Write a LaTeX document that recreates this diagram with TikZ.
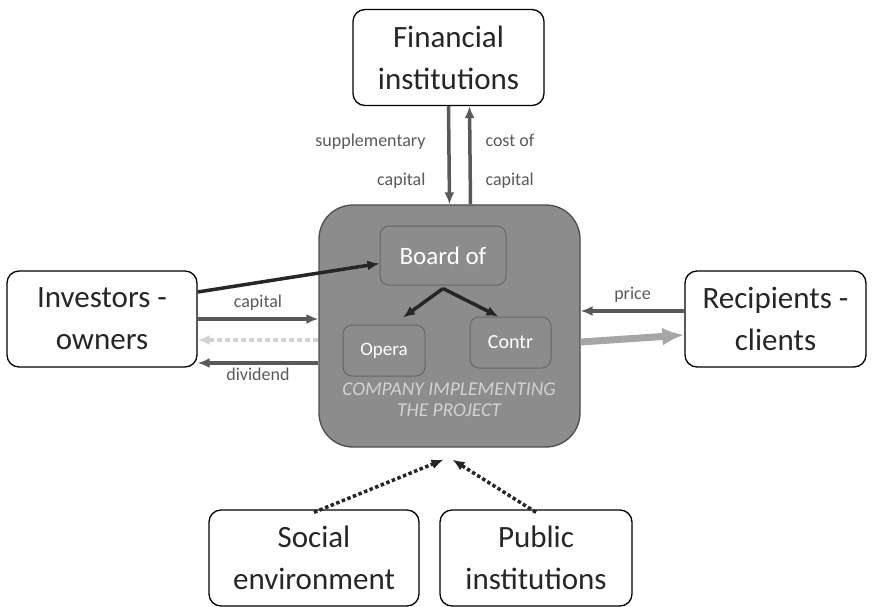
\documentclass[tikz,border=0pt]{standalone}
\usepackage{fontspec}
\setmainfont{Carlito}
\usetikzlibrary{arrows.meta,positioning}
\definecolor{boxgray}{RGB}{140,140,140}
\definecolor{flowgray}{RGB}{89,89,89}
\definecolor{softgray}{RGB}{166,166,166}
\definecolor{palegray}{RGB}{210,210,210}

\begin{document}
\begin{tikzpicture}[>={Latex[length=12pt,width=10pt]}, x=1pt, y=-1pt,
	party/.style={draw, rounded corners=12pt, line width=1.3pt, text=black!85, font=\fontsize{31}{42}\selectfont, align=center, minimum height=96pt},
	inner/.style={draw=black!60, fill=boxgray, rounded corners=9pt, line width=1pt, text=white},
	flow/.style={->, line width=3.5pt, flowgray},
	lbl/.style={text=flowgray, font=\fontsize{18}{39}\selectfont}]
%	\draw [help lines] (0,0) grid (873,606);
	\useasboundingbox (0,0) rectangle (873,606);
	\node [draw=black!70, fill=boxgray, rounded corners=34pt, line width=1.3pt, minimum width=261pt, minimum height=242pt] (comp) at (449.5,326) {};
	\node [text=palegray, font=\fontsize{19.5}{21}\selectfont\itshape, align=center] (complbl) at (449,400) {COMPANY IMPLEMENTING\\THE PROJECT};
	\node [inner, minimum width=126pt, minimum height=59pt, font=\fontsize{25}{28}\selectfont] (board) at (443,255.5) {Board of};
	\node [inner, minimum width=82pt, minimum height=51pt, font=\fontsize{19}{20}\selectfont] (opera) at (384,350.5) {Opera};
	\node [inner, minimum width=81pt, minimum height=51pt, font=\fontsize{20}{20}\selectfont] (contr) at (510.5,342.5) {Contr};

	\node [party, minimum width=191pt] (fin) at (448.5,57.5) {Financial\\institutions};
	\node [party, minimum width=190pt] (inv) at (102,319) {Investors -\\owners};
	\node [party, minimum width=181pt] (rec) at (775.5,319) {Recipients -\\clients};
	\node [party, minimum width=210pt] (soc) at (314,558) {Social\\environment};
	\node [party, minimum width=192pt] (pub) at (536,558) {Public\\institutions};

	% money and goods
	\draw [flow] (fin.south) -- (comp.north);
	\draw [flow] ([xshift=21pt]comp.north) -- ([xshift=21pt]fin.south);
	\node [lbl, align=right, anchor=east] (supl) at (429,161) {supplementary\\capital};
	\node [lbl, align=left, anchor=west] (cost) at (482,161) {cost of\\capital};
	\draw [->, line width=3.5pt, black!85] ([yshift=27pt]inv.east) -- ([yshift=-8pt]board.west);
	\draw [flow] (inv.east) -- (inv.east -| comp.west) node [lbl, pos=0.5, above=4pt] {capital};
	\draw [->, line width=3.5pt, palegray, dash pattern=on 5pt off 3pt] ([yshift=-21pt]comp.west |- inv.east) -- ([yshift=-21pt]inv.east);
	\draw [flow] ([yshift=-44pt]comp.west |- inv.east) -- ([yshift=-44pt]inv.east) node [lbl, pos=0.5, below=0pt] {dividend};
	\draw [flow] ([yshift=8pt]rec.west) -- ([yshift=8pt]rec.west -| comp.east) node [lbl, pos=0.5, above=4pt] {price};
	\draw [-{Latex[length=22pt,width=18pt]}, line width=7pt, softgray] ([yshift=-16pt]comp.east) -- ([yshift=-16pt]rec.west);

	% inside the company
	\draw [->, line width=3.5pt, black!85] ([yshift=-3pt]board.south) -- ([xshift=19pt,yshift=7pt]opera.north);
	\draw [->, line width=3.5pt, black!85] ([yshift=-3pt]board.south) -- ([xshift=-12pt]contr.north);

	% outside influence
	\draw [->, line width=3.5pt, black!85, dash pattern=on 3.5pt off 2.5pt] ([yshift=-3pt]soc.north) -- ([xshift=-6pt,yshift=-12pt]comp.south);
	\draw [->, line width=3.5pt, black!85, dash pattern=on 3.5pt off 2.5pt] ([yshift=-3pt]pub.north) -- ([xshift=3pt,yshift=-12pt]comp.south);
\end{tikzpicture}
\end{document}
